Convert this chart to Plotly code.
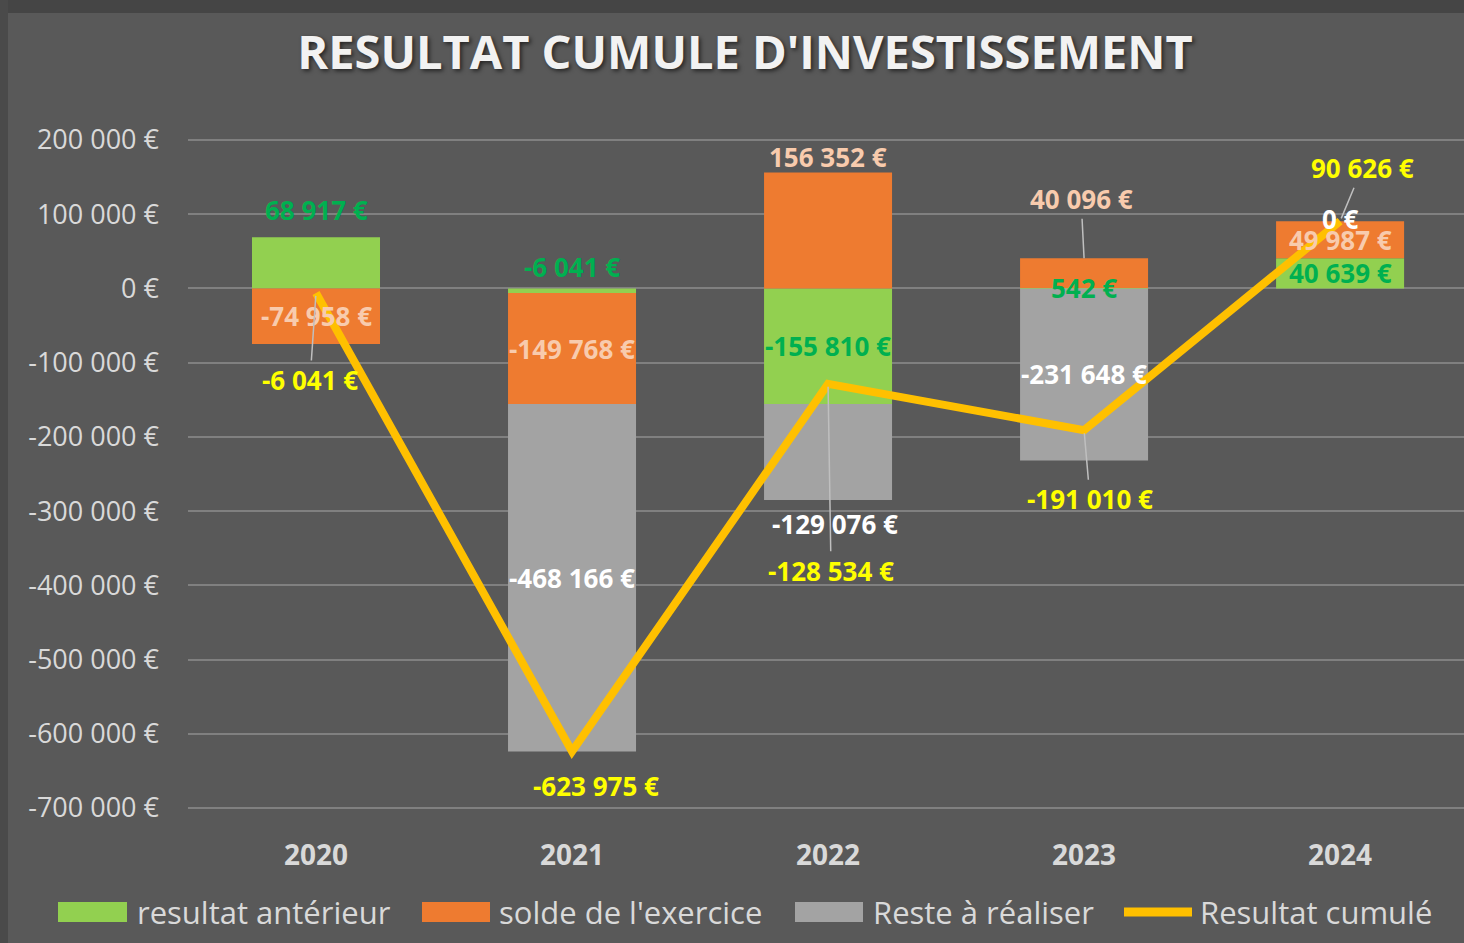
import plotly.graph_objects as go

# ---------------- data ----------------
years = ["2020", "2021", "2022", "2023", "2024"]
resultat_anterieur = [68917, -6041, -155810, 542, 40639]
solde_exercice = [-74958, -149768, 156352, 40096, 49987]
reste_a_realiser = [None, -468166, -129076, -231648, 0]
resultat_cumule = [-6041, -623975, -128534, -191010, 90626]

y_tickvals = [200000, 100000, 0, -100000, -200000, -300000, -400000, -500000, -600000, -700000]
y_ticktext = ["200 000 €", "100 000 €", "0 €", "-100 000 €", "-200 000 €", "-300 000 €",
              "-400 000 €", "-500 000 €", "-600 000 €", "-700 000 €"]

series_names = ["resultat antérieur", "solde de l'exercice", "Reste à réaliser", "Resultat cumulé"]
title_text = "RESULTAT CUMULE D'INVESTISSEMENT"

# ---------------- style ----------------
BG = "#595959"
C_GREEN = "#92D050"
C_ORANGE = "#EE7B30"
C_GRAY = "#A3A3A3"
C_LINE = "#FFC000"
LBL_GREEN = "#00B050"
LBL_ORANGE = "#F8CBAD"
LBL_GRAY = "#FFFFFF"
LBL_LINE = "#FFFF00"
TXT = "#D9D9D9"
FONT = "Open Sans"

W_PX, H_PX = 1464, 943
L, T, PW, PH = 188, 138, 1276, 672


def px_x(q):
    return (q - L) / PW


def px_y(p):
    return (T + PH - p) / PH


def fmt(v):
    return f"{v:,}".replace(",", " ") + " €"


xs = list(range(len(years)))

fig = go.Figure()
bar_series = [
    (resultat_anterieur, C_GREEN, series_names[0]),
    (solde_exercice, C_ORANGE, series_names[1]),
    (reste_a_realiser, C_GRAY, series_names[2]),
]
for vals, col, name in bar_series:
    fig.add_trace(go.Bar(x=years, y=vals, name=name, marker=dict(color=col, line=dict(width=0)),
                         showlegend=False))

fig.add_trace(go.Scatter(x=years, y=resultat_cumule, name=series_names[3], mode="lines",
                         line=dict(color=C_LINE, width=8), showlegend=False))

# compute stacked segments (relative mode) for label anchors
segments = {}
for i, yr in enumerate(years):
    pos, neg = 0, 0
    for s, (vals, _, _) in enumerate(bar_series):
        v = vals[i]
        if v is None:
            continue
        if v >= 0:
            start, end = pos, pos + v
            pos = end
        else:
            start, end = neg, neg + v
            neg = end
        segments[(s, i)] = (start, end)

# label placement: anchor, dx, dy (px, up positive), leader
placement = {
    (0, 0): ("top", 0, 27, False), (0, 1): ("top", 0, 21, False), (0, 2): ("center", 0, 0, False),
    (0, 3): ("center", 0, 0, False), (0, 4): ("center", 0, 0, False),
    (1, 0): ("center", 0, 0, False), (1, 1): ("center", 0, 0, False), (1, 2): ("top", 0, 15, False),
    (1, 3): ("top", -3, 59, True), (1, 4): ("center", 0, 0, False),
    (2, 1): ("center", 0, 0, False), (2, 2): ("bottom", 7, -24, False),
    (2, 3): ("center", 0, 0, False), (2, 4): ("center", 0, 2, False),
}
label_colors = [LBL_GREEN, LBL_ORANGE, LBL_GRAY]
LBL_SIZE = 26

for (s, i), (anchor, dx, dy, leader) in placement.items():
    v = bar_series[s][0][i]
    start, end = segments[(s, i)]
    if anchor == "center":
        ya = (start + end) / 2
    elif anchor == "top":
        ya = max(start, end)
    else:
        ya = min(start, end)
    font = dict(family=FONT, size=LBL_SIZE, color=label_colors[s], weight="bold")
    if leader:
        fig.add_annotation(x=xs[i], y=ya, text=fmt(v), showarrow=True, arrowhead=0,
                           arrowwidth=1.5, arrowcolor="#BFBFBF", ax=dx, ay=-dy, font=font)
    else:
        fig.add_annotation(x=xs[i], y=ya, text=fmt(v), showarrow=False,
                           xshift=dx, yshift=dy, font=font)

line_placement = [(-6, -87, True), (24, -34, False), (3, -187, True), (6, -69, True), (22, 53, True)]
for i, (dx, dy, leader) in enumerate(line_placement):
    v = resultat_cumule[i]
    font = dict(family=FONT, size=LBL_SIZE, color=LBL_LINE, weight="bold")
    if leader:
        fig.add_annotation(x=xs[i], y=v, text=fmt(v), showarrow=True, arrowhead=0,
                           arrowwidth=1.5, arrowcolor="#BFBFBF", ax=dx, ay=-dy, standoff=3, font=font)
    else:
        fig.add_annotation(x=xs[i], y=v, text=fmt(v), showarrow=False,
                           xshift=dx, yshift=dy, font=font)

# frame strips
fig.add_shape(type="rect", xref="paper", yref="paper", x0=px_x(0), x1=px_x(W_PX),
              y0=px_y(13), y1=px_y(0), fillcolor="#454545", line=dict(width=0), layer="below")
fig.add_shape(type="rect", xref="paper", yref="paper", x0=px_x(0), x1=px_x(8),
              y0=px_y(H_PX), y1=px_y(0), fillcolor="#4A4A4A", line=dict(width=0), layer="below")

# custom legend
leg_y = 912
leg_items = [
    ("rect", 58, 127, C_GREEN, 135),
    ("rect", 422, 490, C_ORANGE, 497),
    ("rect", 795, 863, C_GRAY, 871),
    ("line", 1120, 1196, C_LINE, 1198),
]
for k, (kind, x0, x1, col, tx) in enumerate(leg_items):
    if kind == "rect":
        fig.add_shape(type="rect", xref="paper", yref="paper", x0=px_x(x0), x1=px_x(x1),
                      y0=px_y(leg_y + 10), y1=px_y(leg_y - 10), fillcolor=col, line=dict(width=0))
    else:
        fig.add_shape(type="line", xref="paper", yref="paper", x0=px_x(x0 + 4), x1=px_x(x1 - 4),
                      y0=px_y(leg_y), y1=px_y(leg_y), line=dict(color=col, width=9))
    fig.add_annotation(xref="paper", yref="paper", x=px_x(tx), y=px_y(leg_y), xanchor="left",
                       yanchor="middle", text=series_names[k], showarrow=False,
                       font=dict(family=FONT, size=31, color=TXT))

fig.update_layout(
    width=W_PX, height=H_PX, autosize=False,
    margin=dict(l=L, r=W_PX - L - PW, t=T, b=H_PX - T - PH, pad=0),
    paper_bgcolor=BG, plot_bgcolor=BG,
    barmode="relative", bargap=0.5,
    title=dict(text=title_text, x=745 / W_PX, xref="container", xanchor="center",
               y=1 - 53 / H_PX, yref="container", yanchor="middle",
               font=dict(family=FONT, size=47, color="#F2F2F2", weight="bold",
                         shadow="2px 2px 4px rgba(0,0,0,0.6)")),
    showlegend=False,
    font=dict(family=FONT, color=TXT),
)
fig.update_yaxes(range=[-702700, 202700], tickvals=y_tickvals, ticktext=y_ticktext,
                 gridcolor="#808080", gridwidth=2, zeroline=False, showline=False,
                 tickfont=dict(family=FONT, size=27, color=TXT), ticklabelstandoff=28)
fig.update_xaxes(type="category", range=[-0.5, 4.484], showgrid=False, showline=False,
                 zeroline=False, tickfont=dict(family=FONT, size=28, color=TXT, weight="bold"),
                 ticklabelstandoff=26)

fig.write_html("out.html", config={"displayModeBar": False},
               post_script="document.body.style.margin='0';document.body.style.overflow='hidden';")
